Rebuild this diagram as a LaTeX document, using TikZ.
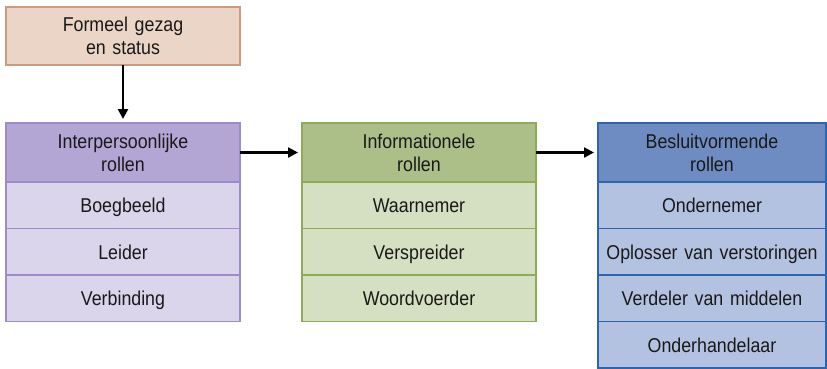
\documentclass[tikz,border=0pt]{standalone}
\usepackage{fontspec}
\setmainfont{Liberation Sans}[FakeStretch=0.89]
\usetikzlibrary{arrows.meta, positioning}

\definecolor{peachfill}{HTML}{EAD5C6}
\definecolor{peachline}{HTML}{CB9A80}
\definecolor{purphead}{HTML}{B4A6D4}
\definecolor{purprow}{HTML}{DAD5EB}
\definecolor{purpline}{HTML}{9F8BC8}
\definecolor{greenhead}{HTML}{ADBF89}
\definecolor{greenrow}{HTML}{D5DFC1}
\definecolor{greenline}{HTML}{8EAB55}
\definecolor{bluehead}{HTML}{6E8CC1}
\definecolor{bluerow}{HTML}{B4C2E1}
\definecolor{blueline}{HTML}{2E65AF}

\begin{document}
\begin{tikzpicture}[x=1pt, y=-1pt,
		every node/.style={font=\fontsize{20}{23}\selectfont, text=black!90, align=center, inner sep=0pt},
		box/.style={draw, line width=1.2pt, outer sep=0pt, minimum width=234pt, text width=230pt},
		head/.style={box, minimum height=59pt},
		rolrow/.style={box, minimum height=46.5pt, text height=14.5pt, text depth=0pt},
		arr/.style={-{Triangle[length=10pt, width=10pt]}, line width=2.2pt, shorten >=4pt}]
			\useasboundingbox (0,0) rectangle (827,368);

			% Draw the box on top
			\node[head, fill=peachfill, draw=peachline, minimum height=58pt] (gezag) at (123,36) {Formeel gezag\\en status};

			% Draw the interpersonal column
			\node[head, fill=purphead, draw=purpline] (inter) at (123,152.5) {Interpersoonlijke\\rollen};
			\node[rolrow, fill=purprow, draw=purpline, below=0pt of inter] (boeg) {Boegbeeld};
			\node[rolrow, fill=purprow, draw=purpline, below=0pt of boeg] (leider) {Leider};
			\node[rolrow, fill=purprow, draw=purpline, below=0pt of leider] (verb) {Verbinding};

			% Draw the informational column
			\node[head, fill=greenhead, draw=greenline] (info) at (419,152.5) {Informationele\\rollen};
			\node[rolrow, fill=greenrow, draw=greenline, below=0pt of info] (waarn) {Waarnemer};
			\node[rolrow, fill=greenrow, draw=greenline, below=0pt of waarn] (versp) {Verspreider};
			\node[rolrow, fill=greenrow, draw=greenline, below=0pt of versp] (woordv) {Woordvoerder};

			% Draw the decisional column
			\node[head, fill=bluehead, draw=blueline, minimum width=228pt, text width=226pt] (besluit) at (712,152.5) {Besluitvormende\\rollen};
			\node[rolrow, fill=bluerow, draw=blueline, minimum width=228pt, text width=226pt, below=0pt of besluit] (ondern) {Ondernemer};
			\node[rolrow, fill=bluerow, draw=blueline, minimum width=228pt, text width=226pt, below=0pt of ondern] (oploss) {Oplosser van verstoringen};
			\node[rolrow, fill=bluerow, draw=blueline, minimum width=228pt, text width=226pt, below=0pt of oploss] (verdel) {Verdeler van middelen};
			\node[rolrow, fill=bluerow, draw=blueline, minimum width=228pt, text width=226pt, below=0pt of verdel] (onderh) {Onderhandelaar};

			% Draw the arrows between the boxes
			\draw[arr] (gezag) -- (inter);
			\draw[arr] (inter) -- (info);
			\draw[arr] (info) -- (besluit);

		\end{tikzpicture}
\end{document}
